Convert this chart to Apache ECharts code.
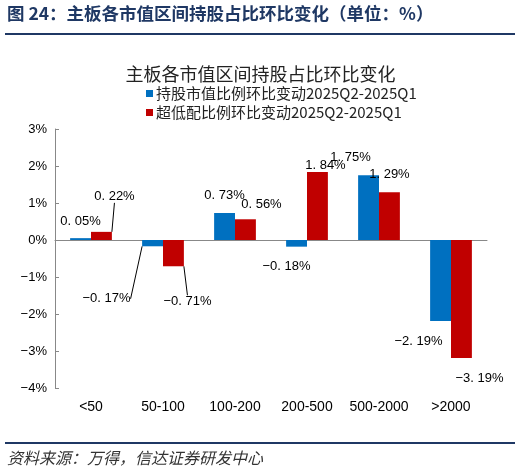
<!DOCTYPE html>
<html>
<head>
<meta charset="utf-8">
<script src="https://cdn.jsdelivr.net/npm/echarts@6/dist/echarts.min.js"></script>
<style>
    html, body {margin: 0; padding: 0; background: #fff;}
    #container {width: 521px; height: 473px;}
</style>
</head>
<body>
<div id="container"></div>
<script>
// 市值区间
var categories = ['<50', '50-100', '100-200', '200-500', '500-2000', '>2000'];
// 持股市值比例环比变动 2025Q2-2025Q1 (%)
var holdShare = [0.05, -0.17, 0.73, -0.18, 1.75, -2.19];
// 超低配比例环比变动 2025Q2-2025Q1 (%)
var underWeight = [0.22, -0.71, 0.56, 1.84, 1.29, -3.19];
var yTicks = [-4, -3, -2, -1, 0, 1, 2, 3];

// 标签偏移 (dx, dy)，仿原图的手工摆放
var shiftA = [[0, -7], [-46, 43], [0, -8], [-10, 10], [-18, -8], [-22, 11]];
var shiftB = [[13, -26], [14, 26], [16, -5], [8, 3], [0, -8], [18, 11]];
var lineA = [false, true, false, false, false, false];
var lineB = [true, true, false, false, false, false];

var fontCN = '"Noto Sans CJK SC", "Noto Sans", sans-serif';

var buildData = function (vals, lines) {
    return vals.map(function (v, i) {
        return {
            value: v,
            label: {position: v < 0 ? 'bottom' : 'top'},
            labelLine: {show: lines[i]}
        };
    });
};

var pctLabel = function (p) {
    var v = p.value;
    return (v < 0 ? '\u2212' : '') + Math.abs(v).toFixed(2).replace('.', '. ') + '%';
};

var dom = document.getElementById('container');
var myChart = echarts.init(dom);

var option = {
    backgroundColor: '#fff',
    animation: false,
    title: {
        text: '主板各市值区间持股占比环比变化',
        left: 'center',
        top: 60,
        textStyle: {fontFamily: fontCN, fontSize: 18, fontWeight: 'normal', color: '#222'}
    },
    legend: {
        orient: 'vertical',
        left: 141,
        top: 81,
        itemWidth: 7,
        itemHeight: 7,
        itemGap: 4,
        icon: 'rect',
        textStyle: {fontFamily: fontCN, fontSize: 15, color: '#222', padding: [0, 0, 0, -2]}
    },
    graphic: [
        {
            type: 'text', left: 7, top: 5,
            style: {text: '图 24：主板各市值区间持股占比环比变化（单位：%）', fill: '#1f3864',
                font: 'bold 17.5px "Noto Sans CJK SC"'}
        },
        {type: 'rect', shape: {x: 5, y: 33, width: 510, height: 2}, style: {fill: '#1f3864'}},
        {type: 'rect', shape: {x: 5, y: 442, width: 510, height: 2}, style: {fill: '#1f3864'}},
        {
            type: 'text', left: 7, top: 450,
            style: {text: '资料来源：万得，信达证券研发中心', fill: '#333',
                font: 'italic 16px "Noto Sans CJK SC"'}
        }
    ],
    grid: {left: 55, right: 34, top: 129, bottom: 85, containLabel: false},
    xAxis: [
        {
            type: 'category',
            data: categories,
            position: 'bottom',
            axisLine: {show: false, onZero: false},
            axisTick: {show: false},
            axisLabel: {margin: 12, fontFamily: 'Liberation Sans, Arial', fontSize: 14, color: '#000', interval: 0}
        },
        {
            type: 'category',
            data: categories,
            position: 'bottom',
            axisLine: {onZero: true, lineStyle: {color: '#888'}},
            axisTick: {inside: true, length: 4, lineStyle: {color: '#888'}},
            axisLabel: {show: false}
        }
    ],
    yAxis: {
        type: 'value',
        min: yTicks[0],
        max: yTicks[yTicks.length - 1],
        interval: 1,
        splitLine: {show: false},
        axisLine: {show: true, lineStyle: {color: '#888'}},
        axisTick: {show: true, inside: true, length: 4, lineStyle: {color: '#888'}},
        axisLabel: {
            fontFamily: 'Liberation Sans, Arial', fontSize: 13, color: '#000', margin: 8,
            formatter: function (v) { return (v < 0 ? '\u2212' + (-v) : v) + '%'; }
        }
    },
    series: [
        {
            name: '持股市值比例环比变动2025Q2-2025Q1',
            type: 'bar',
            xAxisIndex: 0,
            data: buildData(holdShare, lineA),
            barGap: '0%',
            barCategoryGap: '42%',
            itemStyle: {color: '#0070c0'},
            label: {
                show: true, distance: 3, color: '#000', fontFamily: 'Liberation Sans, Arial', fontSize: 13,
                formatter: pctLabel
            },
            labelLine: {lineStyle: {color: '#000', width: 1}},
            labelLayout: function (p) {
                return {dx: shiftA[p.dataIndex][0], dy: shiftA[p.dataIndex][1]};
            }
        },
        {
            name: '超低配比例环比变动2025Q2-2025Q1',
            type: 'bar',
            xAxisIndex: 0,
            data: buildData(underWeight, lineB),
            barGap: '0%',
            barCategoryGap: '42%',
            itemStyle: {color: '#c00000'},
            label: {
                show: true, distance: 3, color: '#000', fontFamily: 'Liberation Sans, Arial', fontSize: 13,
                formatter: pctLabel
            },
            labelLine: {lineStyle: {color: '#000', width: 1}},
            labelLayout: function (p) {
                return {dx: shiftB[p.dataIndex][0], dy: shiftB[p.dataIndex][1]};
            }
        }
    ]
};

if (option && typeof option === 'object') {
    myChart.setOption(option);
}
</script>
</body>
</html>
